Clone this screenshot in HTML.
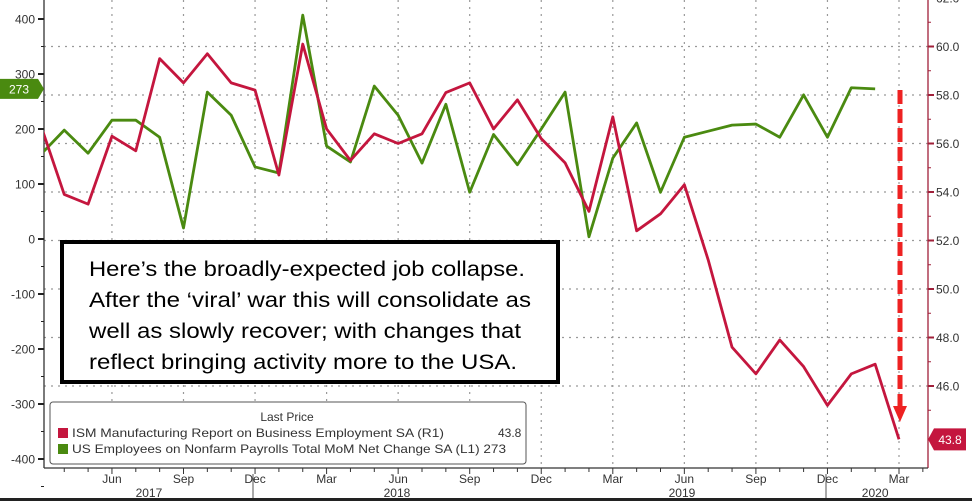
<!DOCTYPE html>
<html><head><meta charset="utf-8"><style>
html,body{margin:0;padding:0;background:#fff;}
svg{display:block;font-family:"Liberation Sans",sans-serif;}
</style></head><body>
<svg id="chart" width="972" height="501" viewBox="0 0 972 501" xmlns="http://www.w3.org/2000/svg">
<g id="grid"></g>
<g id="axes"></g>
<g id="series" clip-path="url(#clip)"></g>
<defs><clipPath id="clip"><rect x="44" y="0" width="884" height="468"/></clipPath></defs>
<g id="overlay"></g>
</svg>
<script>
const months = ["Mar17","Apr17","May17","Jun17","Jul17","Aug17","Sep17","Oct17","Nov17","Dec17","Jan18","Feb18","Mar18","Apr18","May18","Jun18","Jul18","Aug18","Sep18","Oct18","Nov18","Dec18","Jan19","Feb19","Mar19","Apr19","May19","Jun19","Jul19","Aug19","Sep19","Oct19","Nov19","Dec19","Jan20","Feb20","Mar20"];
const ismValues = [56.8,53.9,53.5,56.3,55.7,59.5,58.5,59.7,58.5,58.2,54.7,60.1,56.6,55.3,56.4,56.0,56.4,58.1,58.5,56.6,57.8,56.2,55.2,53.2,57.1,52.4,53.1,54.3,51.2,47.6,46.5,47.9,46.8,45.2,46.5,46.9,43.8];
const payrollValues = [153,198,156,216,216,185,20,267,225,131,120,407,169,140,278,225,138,245,85,190,135,200,267,4,147,211,85,185,196,207,209,185,262,185,275,273];
const leftTicks = [400,300,200,100,0,-100,-200,-300,-400];
const rightTicks = [62,60,58,56,54,52,50,48,46];
const monthLabels = [["Jun",3],["Sep",6],["Dec",9],["Mar",12],["Jun",15],["Sep",18],["Dec",21],["Mar",24],["Jun",27],["Sep",30],["Dec",33],["Mar",36]];
const yearLabels = [["2017",4.55],["2018",14.95],["2019",26.9],["2020",35.0]];

const NS="http://www.w3.org/2000/svg";
const xS = i => 40.4 + i*23.85;
const yL = v => 239 - v*0.55;
const yR = v => 95 + (58-v)*24.25;
function mk(tag, attrs, parent, text){const e=document.createElementNS(NS,tag);for(const k in attrs)e.setAttribute(k,attrs[k]);if(text!==undefined)e.textContent=text;parent.appendChild(e);return e;}
const grid=document.getElementById('grid'), axes=document.getElementById('axes'), series=document.getElementById('series'), ov=document.getElementById('overlay');

rightTicks.forEach(v=>{const l=mk('line',{x1:44,x2:928,y1:yR(v),y2:yR(v),stroke:'#999','stroke-width':1.2,'stroke-dasharray':'2,5'},grid);

});
monthLabels.forEach(m=>{const l=mk('line',{x1:xS(m[1]),x2:xS(m[1]),y1:0,y2:468,stroke:'#999','stroke-width':1.2,'stroke-dasharray':'2,5'},grid);

});

mk('line',{x1:44,x2:44,y1:0,y2:468,stroke:'#333','stroke-width':1.3},axes);
mk('line',{x1:928,x2:928,y1:0,y2:468,stroke:'#a0203a','stroke-width':1.3},axes);
mk('line',{x1:44,x2:928,y1:468,y2:468,stroke:'#333','stroke-width':1.3},axes);
leftTicks.forEach(v=>{mk('line',{x1:38,x2:44,y1:yL(v),y2:yL(v),stroke:'#222','stroke-width':2},axes);
mk('line',{x1:41,x2:44,y1:yL(v-50),y2:yL(v-50),stroke:'#222','stroke-width':1},axes);
const t=mk('text',{x:35,y:yL(v)+4.5,'text-anchor':'end','font-size':12,fill:'#333'},axes,String(v));

});
rightTicks.forEach(v=>{mk('line',{x1:928,x2:934,y1:yR(v),y2:yR(v),stroke:'#a0203a','stroke-width':2},axes);
mk('line',{x1:928,x2:931,y1:yR(v-1),y2:yR(v-1),stroke:'#a0203a','stroke-width':1},axes);
const t=mk('text',{x:936,y:yR(v)+4.5,'font-size':12,fill:'#333'},axes,v.toFixed(1));

});
for(let i=1;i<=37;i++){mk('line',{x1:xS(i),x2:xS(i),y1:468,y2:i%3===0?474:472,stroke:'#333','stroke-width':1},axes);}
monthLabels.forEach(m=>{const t=mk('text',{x:xS(m[1]),y:483,'text-anchor':'middle','font-size':12,fill:'#333'},axes,m[0]);

});
yearLabels.forEach(y=>{const t=mk('text',{x:xS(y[1]),y:497,'text-anchor':'middle','font-size':12,fill:'#333'},axes,y[0]);

});
[253,826].forEach(x=>mk('line',{x1:x,x2:x,y1:474,y2:498,stroke:'#555','stroke-width':1},axes));
mk('line',{x1:0,x2:972,y1:499.5,y2:499.5,stroke:'#222','stroke-width':3},axes);

const gp=mk('polyline',{points:payrollValues.map((v,i)=>xS(i)+','+yL(v)).join(' '),fill:'none',stroke:'#4a8a10','stroke-width':2.8,'stroke-linejoin':'round'},series);


const rp=mk('polyline',{points:ismValues.map((v,i)=>xS(i)+','+yR(v)).join(' '),fill:'none',stroke:'#c4163e','stroke-width':2.8,'stroke-linejoin':'round'},series);



const gLast=payrollValues[payrollValues.length-1], rLast=ismValues[ismValues.length-1];
const gy=yL(gLast);
const gt=mk('path',{d:`M0 ${gy-10} H38 L44 ${gy} L38 ${gy+10} H0 Z`,fill:'#4a8a10'},ov);


mk('text',{x:19,y:gy+4.5,'text-anchor':'middle','font-size':12,fill:'#fff'},ov,String(gLast));
const ry=yR(rLast);
const rt=mk('path',{d:`M928 ${ry} L934 ${ry-11} H966 V${ry+11} H934 Z`,fill:'#c4163e'},ov);


mk('text',{x:950,y:ry+4.5,'text-anchor':'middle','font-size':12,fill:'#fff'},ov,rLast.toFixed(1));

const ar=mk('line',{x1:900,x2:900,y1:90,y2:406,stroke:'#ee2222','stroke-width':5,'stroke-dasharray':'14,5'},ov);


mk('path',{d:'M893 406 H907 L900 422 Z',fill:'#ee2222'},ov);
</script>
<svg style="position:absolute;left:0;top:0" width="972" height="501">
<g>
<rect x="62" y="242" width="496" height="140" fill="#fff" stroke="#000" stroke-width="4"/>
<g font-family="'Liberation Sans',sans-serif" font-size="21" fill="#000">
<text x="89" y="276" textLength="436" lengthAdjust="spacingAndGlyphs">Here’s the broadly-expected job collapse.</text>
<text x="89" y="307" textLength="442" lengthAdjust="spacingAndGlyphs">After the ‘viral’ war this will consolidate as</text>
<text x="89" y="338" textLength="432" lengthAdjust="spacingAndGlyphs">well as slowly recover; with changes that</text>
<text x="89" y="369" textLength="428" lengthAdjust="spacingAndGlyphs">reflect bringing activity more to the USA.</text>
</g></g>
<g font-family="'Liberation Sans',sans-serif" font-size="12" fill="#333">
<rect x="50" y="402" width="476" height="62" rx="3" fill="#fff" stroke="#555" stroke-width="1"/>
<text x="287" y="421" text-anchor="middle">Last Price</text>
<rect x="58" y="428" width="10" height="10" fill="#c4163e"/>
<text x="72" y="437" textLength="372" lengthAdjust="spacingAndGlyphs">ISM Manufacturing Report on Business Employment SA  (R1)</text>
<text x="498" y="437">43.8</text>
<rect x="58" y="444" width="10" height="10" fill="#4a8a10"/>
<text x="72" y="453" textLength="434" lengthAdjust="spacingAndGlyphs">US Employees on Nonfarm Payrolls Total MoM Net Change SA  (L1) 273</text>
</g>
</svg>
</body></html>
